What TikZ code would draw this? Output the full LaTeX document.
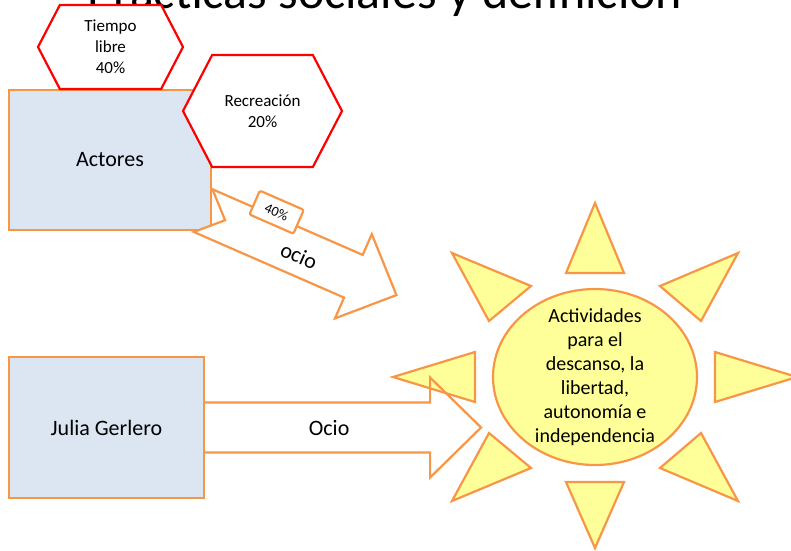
\documentclass[tikz,border=0pt]{standalone}
\usepackage{fontspec}
\setmainfont{Carlito}
\usetikzlibrary{calc,shapes.geometric,shapes.symbols}
\definecolor{accorange}{HTML}{F79646}
\definecolor{boxblue}{HTML}{DCE6F2}
\definecolor{sunyellow}{HTML}{FFFF99}
\tikzset{
  block/.style={rectangle, draw=accorange, fill=boxblue, line width=2.2pt, align=center, font=\fontsize{22}{26}\selectfont},
  hexa/.style={signal, signal to=east and west, signal pointer angle=125, draw=red, fill=white, line width=2.2pt, align=center, inner sep=0pt, font=\fontsize{17}{21}\selectfont},
  ray/.style={draw=accorange, fill=sunyellow, line width=2.2pt, line join=miter},
  bigarrow/.style={draw=accorange, line width=2.2pt},
  pcttag/.style={rectangle, draw=accorange, fill=white, line width=2.2pt, rounded corners=2pt, minimum width=48pt, minimum height=26pt, inner sep=0pt, font=\fontsize{14}{16}\selectfont}
}

\begin{document}
\begin{tikzpicture}[x=1pt, y=-1pt]
  \clip (0,0) rectangle (791,550);
  \node[anchor=base, font=\fontsize{50}{60}\selectfont] (title) at (385,8) {Prácticas sociales y definición};

  % actors
  \node[block, minimum width=202pt, minimum height=140pt] (actores) at (110,160) {Actores};
  \node[block, minimum width=195pt, minimum height=141pt] (julia) at (106.5,427.5) {Julia Gerlero};

  % percentages
  \node[hexa, minimum width=145pt, minimum height=84pt] (tiempo) at (110.5,47) {Tiempo\\libre\\40\%};
  \node[hexa, minimum width=159pt, minimum height=112pt] (recreacion) at (262.5,111) {Recreación\\20\%};

  % sun
  \node[ellipse, draw=accorange, fill=sunyellow, line width=2.2pt, minimum width=204pt, minimum height=176pt] (sun) at (595,377) {};
  \begin{scope}[shift={(sun.center)}]
    \foreach \ax/\ay/\bx/\by/\cx/\cy in {0/-174/-29/-104/29/-104, 0/171/-29/105/29/105,
        -202/0/-120/-25/-120/25, 202/0/120/-25/120/25,
        -143/-124/-64/-91/-106/-56, 143/-124/65/-91/106/-56,
        -143/124/-106/56/-64/91, 143/124/106/56/65/91}
      \draw[ray] (\ax,\ay) -- (\bx,\by) -- (\cx,\cy) -- cycle;
  \end{scope}
  \node[align=center, font=\fontsize{20}{24}\selectfont] (suntext) at (sun.center) {Actividades\\para el\\descanso, la\\libertad,\\autonomía e\\independencia};

  % ocio from actores
  \coordinate (ociotail) at ($(actores.south east)+(-9,-20.5)$);
  \begin{scope}[shift={(ociotail)}, rotate=-23.6]
    \draw[bigarrow, fill=white] (0,-23.3) -- (164,-23.3) -- (164,-46) -- (211,0) -- (164,46) -- (164,23.3) -- (0,23.3) -- (24,0) -- cycle;
    \node[rotate=-23.6, font=\fontsize{22}{26}\selectfont] (ociolabel) at (106,3) {ocio};
    \node[pcttag, rotate=-23.6] (pct) at (68,-28) {40\%};
  \end{scope}

  % ocio from julia
  \coordinate (ociotip) at ($(julia.east)+(276,0)$);
  \draw[bigarrow] ($(julia.east)+(0,-25)$) -- ++(225,0) -- ++(0,-25) -- (ociotip)
    -- ++(-51,50) -- ++(0,-25) -- ++(-225,0);
  \node[font=\fontsize{22}{26}\selectfont] (ociotext) at ($(julia.east)+(124,0)$) {Ocio};
\end{tikzpicture}
\end{document}
